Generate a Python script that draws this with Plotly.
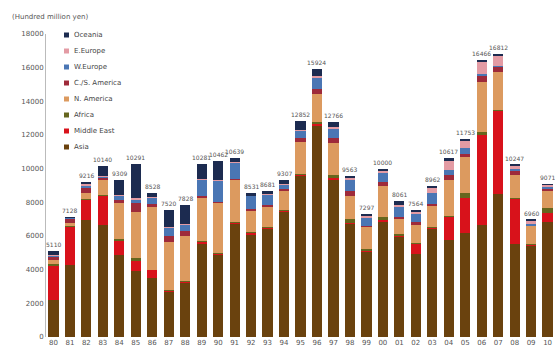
import plotly.graph_objects as go

years = ["80","81","82","83","84","85","86","87","88","89",
         "90","91","92","93","94","95","96","97","98","99",
         "00","01","02","03","04","05","06","07","08","09","10"]

asia = [2200,4250,6950,6650,4850,3930,3500,2700,3250,5550,
        4900,6750,6100,6450,7450,9600,12550,9300,6750,5050,
        6850,5950,4950,6450,5750,6150,6650,8500,5550,5450,6850]
middle_east = [2050,2300,1200,1750,900,600,480,50,50,100,
               50,50,100,50,50,50,100,200,50,50,
               100,50,600,30,1400,2100,5350,4950,2650,50,500]
africa = [100,50,50,30,50,150,30,30,30,50,
          30,30,30,30,50,50,150,100,200,150,
          200,100,50,50,50,300,200,50,50,50,300]
n_america = [250,150,350,870,2150,2750,3700,2850,2650,2600,
             3000,2500,1300,1200,1100,1900,1650,1900,1350,1300,
             1850,950,1050,1300,2150,2150,2950,2250,1350,1050,1000]
cs_america = [200,300,350,200,200,520,200,400,300,50,
              50,50,100,100,150,200,300,300,300,50,
              200,100,200,50,250,200,400,300,250,50,200]
w_europe = [50,30,80,60,250,200,400,500,400,1000,
            1250,1000,750,650,250,450,650,600,650,500,
            600,600,450,650,300,300,100,50,150,50,50]
e_europe = [30,20,100,30,30,100,30,30,30,50,
            30,30,20,30,30,50,100,50,150,100,
            100,100,150,300,600,450,700,650,200,200,150]
oceania = [230,28,136,550,879,2041,188,960,1118,881,
           1152,229,131,171,227,552,424,316,113,97,
           100,211,114,132,117,103,116,62,47,60,21]

series = [
    ("Asia", asia, "#6a420e"),
    ("Middle East", middle_east, "#d8121b"),
    ("Africa", africa, "#66661e"),
    ("N. America", n_america, "#dc9a5f"),
    ("C./S. America", cs_america, "#9e2a3a"),
    ("W.Europe", w_europe, "#4a76b4"),
    ("E.Europe", e_europe, "#e39ba4"),
    ("Oceania", oceania, "#1c2b50"),
]

xs = list(range(len(years)))
totals = [sum(v[i] for _, v, _ in series) for i in xs]

# layout geometry (pixels)
W, H = 555, 358
ML, MR, MT, MB = 46, 0, 34, 21
PW, PH = W - ML - MR, H - MT - MB

def px_to_paper(px, py):
    return (px - ML) / PW, (H - MB - py) / PH

fig = go.Figure()
for name, vals, col in series:
    fig.add_trace(go.Bar(x=xs, y=vals, name=name, marker_color=col,
                         marker_line_width=0, showlegend=False))

for x, t in zip(xs, totals):
    fig.add_annotation(x=x, y=t, text=str(t), showarrow=False, yanchor="bottom",
                       yshift=1, font=dict(size=6, color="#555555"))

tx, ty = px_to_paper(10, 17)
fig.add_annotation(xref="paper", yref="paper", x=tx, y=ty, xanchor="left",
                   yanchor="middle", text="(Hundred million yen)", showarrow=False,
                   font=dict(size=7, color="#555555"))

# legend (top to bottom: Oceania ... Asia)
for k, (name, vals, col) in enumerate(reversed(series)):
    cy = 35 + 16 * k
    x0, y0 = px_to_paper(64, cy + 2.5)
    x1, y1 = px_to_paper(69, cy - 2.5)
    fig.add_shape(type="rect", xref="paper", yref="paper", x0=x0, y0=y0,
                  x1=x1, y1=y1, fillcolor=col, line_width=0)
    lx, ly = px_to_paper(72, cy)
    fig.add_annotation(xref="paper", yref="paper", x=lx, y=ly, xanchor="left",
                       yanchor="middle", text=name, showarrow=False,
                       font=dict(size=7, color="#444444"))

fig.update_layout(
    barmode="stack", bargap=0.38,
    width=W, height=H,
    margin=dict(l=ML, r=MR, t=MT, b=MB),
    paper_bgcolor="white", plot_bgcolor="white",
    font=dict(family="DejaVu Sans", size=7, color="#555555"),
    showlegend=False,
    xaxis=dict(range=[-0.45, 30.45], showline=False, showgrid=False,
               zeroline=False, ticks="", tickvals=xs, ticktext=years,
               tickfont=dict(size=7, color="#555555")),
    yaxis=dict(range=[0, 18000], dtick=2000, tickformat="d", showgrid=False,
               zeroline=False, showline=True, linecolor="#bbbbbb", linewidth=1,
               ticks="", tickfont=dict(size=7, color="#555555")),
)

fig.write_html("out.html")
